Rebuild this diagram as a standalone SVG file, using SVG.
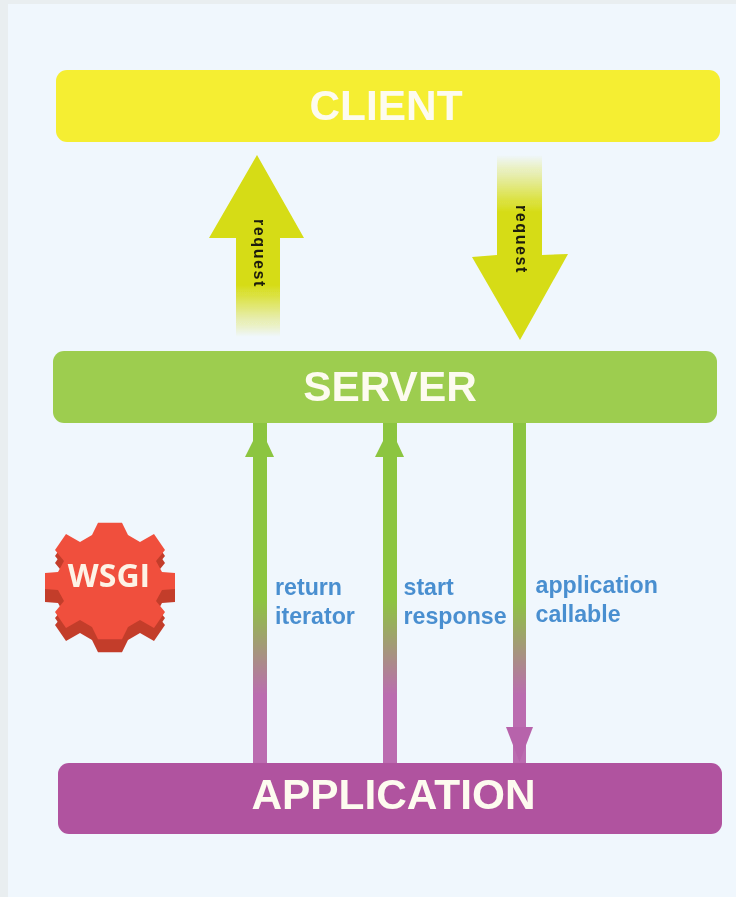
<svg xmlns="http://www.w3.org/2000/svg" width="736" height="897" viewBox="0 0 736 897">
<style>
.bar{stroke:none}
.title{font-family:"Liberation Sans",Arial,sans-serif;font-weight:700;font-size:42.400px;fill:#fdfbef;text-anchor:middle}
.lbl{font-family:"Liberation Sans",Arial,sans-serif;font-weight:700;font-size:23.200px;fill:#4a8fd0}
.req{font-family:"Liberation Sans",Arial,sans-serif;font-weight:700;font-size:16px;letter-spacing:1.6px;fill:#1a1a10}
.wsgi{font-family:"Open Sans",sans-serif;font-weight:700;font-size:32px;fill:#fdf3e6;text-anchor:middle}
</style>
<defs>
<filter id="soft" x="0" y="0" width="736" height="897" filterUnits="userSpaceOnUse" primitiveUnits="userSpaceOnUse"><feGaussianBlur stdDeviation="0.6"/></filter>
<linearGradient id="upFade" gradientUnits="userSpaceOnUse" x1="0" y1="285" x2="0" y2="337"><stop offset="0" stop-color="#d6dc14"/><stop offset="1" stop-color="#d6dc14" stop-opacity="0"/></linearGradient>
<linearGradient id="downFade" gradientUnits="userSpaceOnUse" x1="0" y1="155" x2="0" y2="212"><stop offset="0" stop-color="#d6dc14" stop-opacity="0"/><stop offset="1" stop-color="#d6dc14"/></linearGradient>
<linearGradient id="shaft" gradientUnits="userSpaceOnUse" x1="0" y1="423" x2="0" y2="763"><stop offset="0" stop-color="#8cc540"/><stop offset="0.52" stop-color="#8cc540"/><stop offset="0.8" stop-color="#bb6cb0"/><stop offset="1" stop-color="#bb6cb0"/></linearGradient>
<polygon id="gearShape" points="122,522.700 128,535 140,542 154,534 165,550 156,561 162,572 175,573 175,589 162,590 156,601 165,612 154,628 140,620 128,627 122,639.300 98,639.300 92,627 80,620 66,628 55,612 64,601 58,590 45,589 45,573 58,572 64,561 55,550 66,534 80,542 92,535 98,522.700"/>
</defs>
<rect width="736" height="897" fill="#e9eef0"/>
<rect x="8" y="4" width="728" height="893" fill="#f0f7fd"/>
<g filter="url(#soft)">
<g id="connectors">
<g id="request-up">
<polygon points="257,155 304,238 280,238 280,285 236,285 236,238 209,238" fill="#d6dc14"/>
<rect x="236" y="285" width="44" height="52" fill="url(#upFade)"/>
<text class="req" transform="translate(254,219) rotate(90)">request</text>
</g>
<g id="request-down">
<rect x="497" y="155" width="45" height="100" fill="url(#downFade)"/>
<polygon points="472,257 497,255 542,255 568,254 520,340" fill="#d6dc14"/>
<text class="req" transform="translate(516,205) rotate(90)">request</text>
</g>
<g id="return-iterator-arrow">
<rect x="253" y="423" width="14" height="340" fill="url(#shaft)"/>
<polygon points="245,457 274,457 260,427" fill="#8cc540"/>
</g>
<g id="start-response-arrow">
<rect x="383" y="423" width="14" height="340" fill="url(#shaft)"/>
<polygon points="375,457 404,457 390,427" fill="#8cc540"/>
</g>
<g id="application-callable-arrow">
<rect x="513" y="423" width="13" height="340" fill="url(#shaft)"/>
<polygon points="506,727 533,727 519.500,762" fill="#b764ab"/>
</g>
</g>
<g id="client"><rect class="bar" x="56" y="70" width="664" height="72" rx="11" fill="#f5ee33"/><text class="title" x="386" y="120">CLIENT</text></g>
<g id="server"><rect class="bar" x="53" y="351" width="664" height="72" rx="11" fill="#9dcd50"/><text class="title" x="390" y="401">SERVER</text></g>
<g id="application"><rect class="bar" x="58" y="763" width="664" height="71" rx="11" fill="#b0529f"/><text class="title" x="393.500" y="809">APPLICATION</text></g>
<g id="wsgi">
<use href="#gearShape" y="13" fill="#c33d2c"/>
<use href="#gearShape" y="6" fill="#c33d2c"/>
<use href="#gearShape" fill="#f0503c"/>
<text class="wsgi" x="109" y="587">WSGI</text>
</g>
<g id="labels">
<text class="lbl" x="275" y="595">return</text>
<text class="lbl" x="275" y="624">iterator</text>
<text class="lbl" x="403.500" y="595">start</text>
<text class="lbl" x="403.500" y="624">response</text>
<text class="lbl" x="535.500" y="593">application</text>
<text class="lbl" x="535.500" y="622">callable</text>
</g>
</g>
</svg>
